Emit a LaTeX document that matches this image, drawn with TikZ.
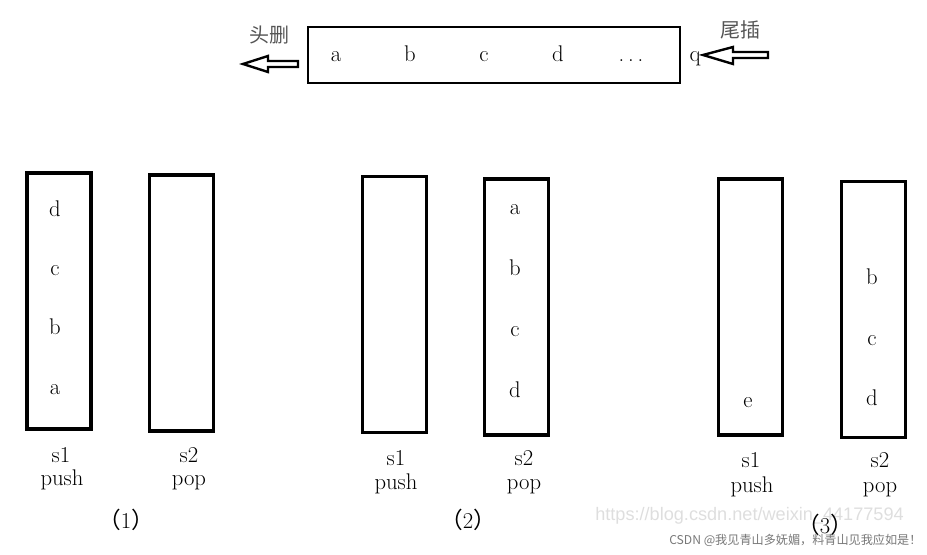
\documentclass[tikz,border=0pt]{standalone}
\usepackage{fontspec}
\usepackage{xcolor}
\usepackage{tikz}
\newfontfamily\cjk{Noto Sans CJK SC}
\newfontfamily\wmfont{Liberation Sans}
\definecolor{labelgray}{RGB}{85,85,85}
\definecolor{markgray}{RGB}{222,222,222}
\definecolor{csdngray}{RGB}{120,120,120}

\begin{document}
\begin{tikzpicture}[x=0.75pt, y=-0.75pt, font=\fontsize{17}{20}\selectfont,
    stack/.style={draw, line width=2.4pt, minimum width=48pt, minimum height=192pt, inner sep=0pt},
    elem/.style={anchor=base, inner sep=0pt},
    blockarrow/.style={draw, line width=1.8pt, fill=white, line join=miter},
    cnlabel/.style={text=labelgray, font=\cjk\fontsize{15}{18}\selectfont}]
    \useasboundingbox (0,0) rectangle (927,555);

    % Queue box
    \node[draw, line width=2pt, minimum width=279pt, minimum height=42pt] (queue) at (494,55) {};
    \foreach \ch/\px [count=\i] in {a/336, b/410, c/484, d/558, {.\,.\,.}/631}
        \node[elem] (q\i) at (\px,62) {\ch};
    \node[elem] (qtail) at (695,62) {q};

    % Head delete / tail insert
    \node[cnlabel] (headdel) at (269,35) {头删};
    \node[cnlabel] (tailins) at (740,30) {尾插};
    \draw[blockarrow] (243,64) -- (268,56) -- (268,61) -- (298,61) -- (298,67) -- (268,67) -- (268,72) -- cycle;
    \draw[blockarrow] (703,55) -- (733,47) -- (733,52) -- (768,52) -- (768,58) -- (733,58) -- (733,64) -- cycle;

    % (1)
    \node[stack] (oneS) at (59,301) {};
    \node[stack] (oneT) at (181.5,303) {};
    \foreach \ch [count=\i] in {d,c,b,a}
        \node[elem] (oneS\i) at (55,158+59*\i) {\ch};
    \node[elem] (oneSname) at (61,462) {s1};
    \node[elem] (oneSop) at (62,485) {push};
    \node[elem] (oneTname) at (189,462) {s2};
    \node[elem] (oneTop) at (189,485) {pop};
    \node[elem] (capone) at (126,528) {{\cjk （}1{\cjk ）}};

    % (2)
    \node[stack] (twoS) at (394.5,304.5) {};
    \node[stack] (twoT) at (516.5,307) {};
    \foreach \ch [count=\i] in {a,b,c,d}
        \node[elem] (twoT\i) at (515,153.5+61*\i) {\ch};
    \node[elem] (twoSname) at (396,465) {s1};
    \node[elem] (twoSop) at (396,489) {push};
    \node[elem] (twoTname) at (524,465) {s2};
    \node[elem] (twoTop) at (524,489) {pop};
    \node[elem] (captwo) at (468,528) {{\cjk （}2{\cjk ）}};

    % (3)
    \node[stack] (threeS) at (750.5,307) {};
    \node[stack] (threeT) at (873.5,309.5) {};
    \node[elem] (threeS1) at (748,407) {e};
    \foreach \ch [count=\i] in {b,c,d}
        \node[elem] (threeT\i) at (872,224.5+60.5*\i) {\ch};
    \node[elem] (threeSname) at (751,467) {s1};
    \node[elem] (threeSop) at (752,492) {push};
    \node[elem] (threeTname) at (880,467) {s2};
    \node[elem] (threeTop) at (880,492) {pop};

    % Watermark
    \node[anchor=base west, inner sep=0pt, text=markgray, font=\wmfont\fontsize{13.6}{16}\selectfont] (wmurl) at (595,520) {https://blog.csdn.net/weixin\_44177594};
    \node[elem] (capthree) at (825,533) {{\cjk （}3{\cjk ）}};
    \node[anchor=base west, inner sep=0pt, text=csdngray, font=\cjk\fontsize{9.1}{11}\selectfont] (wmcsdn) at (669,544) {CSDN @我见青山多妩媚，料青山见我应如是！};
\end{tikzpicture}
\end{document}
